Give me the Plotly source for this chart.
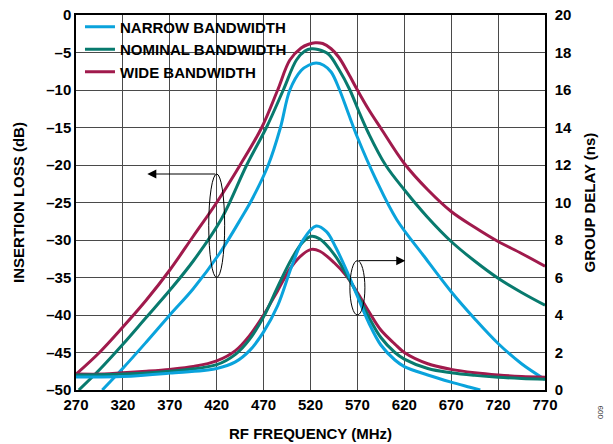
import plotly.graph_objects as go

# ---------------- data ----------------
freq_il_wide = [270, 295, 320, 345, 370, 395, 420, 445, 468, 485, 498, 510, 518, 525, 533, 542, 550, 560, 570, 582, 595, 620, 645, 670, 695, 720, 745, 770]
il_wide = [-47.9, -45.0, -41.6, -38.0, -34.0, -29.5, -25.0, -20.0, -15.0, -10.0, -6.0, -4.4, -3.9, -3.7, -3.8, -4.5, -5.6, -7.7, -10.0, -12.6, -15.1, -19.8, -23.3, -26.2, -28.3, -30.2, -31.8, -33.5]

freq_il_nom = [273, 295, 320, 345, 370, 395, 425, 452, 473, 491, 505, 514, 521, 528, 539, 550, 562, 572, 582, 600, 620, 645, 670, 695, 720, 745, 770]
il_nom = [-50.0, -47.3, -43.9, -40.3, -36.7, -32.8, -27.2, -20.0, -15.0, -10.0, -6.0, -4.8, -4.5, -4.6, -5.2, -7.2, -10.0, -13.0, -15.8, -20.0, -23.3, -27.0, -30.2, -32.8, -35.1, -37.0, -38.7]

freq_il_nar = [298, 320, 345, 370, 395, 423, 447, 458, 475, 488, 498, 510, 518, 526, 534, 542, 551, 560, 570, 590, 612, 640, 670, 695, 720, 745, 770]
il_nar = [-50.0, -47.1, -43.6, -40.0, -36.5, -31.8, -26.9, -24.5, -20.0, -15.0, -10.0, -7.4, -6.7, -6.4, -6.7, -7.6, -10.0, -13.0, -16.3, -22.0, -27.3, -32.0, -36.9, -40.5, -43.8, -46.5, -48.6]

freq_gd_wide = [270, 300, 320, 345, 370, 395, 420, 440, 455, 470, 485, 500, 512, 521, 530, 545, 558, 570, 582, 595, 610, 620, 645, 670, 695, 720, 745, 770]
gd_wide = [0.85, 0.85, 0.92, 1.0, 1.1, 1.25, 1.55, 2.1, 2.9, 4.0, 5.3, 6.6, 7.25, 7.5, 7.4, 6.8, 6.1, 5.2, 4.2, 3.2, 2.45, 2.0, 1.4, 1.1, 0.92, 0.8, 0.72, 0.68]

freq_gd_nom = [270, 320, 370, 420, 440, 455, 470, 485, 500, 512, 521, 530, 545, 558, 570, 582, 595, 610, 620, 645, 670, 695, 720, 745, 770]
gd_nom = [0.8, 0.85, 1.0, 1.35, 1.9, 2.7, 3.9, 5.5, 7.0, 7.9, 8.2, 8.05, 7.25, 6.2, 5.1, 3.9, 2.8, 2.0, 1.65, 1.15, 0.92, 0.78, 0.68, 0.62, 0.58]

freq_gd_nar = [270, 320, 370, 420, 440, 455, 470, 485, 500, 512, 526, 537, 547, 560, 570, 582, 595, 610, 620, 645, 670, 690, 701]
gd_nar = [0.7, 0.72, 0.9, 1.15, 1.5, 2.1, 3.1, 4.5, 6.6, 8.0, 8.75, 8.45, 7.6, 6.2, 5.0, 3.6, 2.4, 1.6, 1.25, 0.8, 0.42, 0.15, 0.0]

series_names = ["NARROW BANDWIDTH", "NOMINAL BANDWIDTH", "WIDE BANDWIDTH"]
colors = {"NARROW BANDWIDTH": "#0AA3DC", "NOMINAL BANDWIDTH": "#087A6E", "WIDE BANDWIDTH": "#A01A4C"}

x_ticks = [270, 320, 370, 420, 470, 520, 570, 620, 670, 720, 770]
y_ticks = [0, -5, -10, -15, -20, -25, -30, -35, -40, -45, -50]
y2_ticks = [0, 2, 4, 6, 8, 10, 12, 14, 16, 18, 20]

# annotation geometry
left_ellipse = dict(x0=411.5, x1=428.5, y0=-35.0, y1=-21.2)
left_arrow_head = (346, -21.2)
right_ellipse = dict(x0=562, x1=578, y0=4.0, y1=6.9)
right_arrow_head = (621, 6.9)

FONT = "Arial, 'Liberation Sans', Helvetica, sans-serif"
LW = 3

fig = go.Figure()

gd_sets = [("WIDE BANDWIDTH", freq_gd_wide, gd_wide),
           ("NOMINAL BANDWIDTH", freq_gd_nom, gd_nom),
           ("NARROW BANDWIDTH", freq_gd_nar, gd_nar)]
for name, fx, fy in gd_sets:
    fig.add_trace(go.Scatter(x=fx, y=fy, mode="lines", yaxis="y2", showlegend=False,
                             line=dict(color=colors[name], width=LW, shape="spline", smoothing=1.0),
                             hoverinfo="skip"))

il_sets = [("WIDE BANDWIDTH", freq_il_wide, il_wide, 3),
           ("NOMINAL BANDWIDTH", freq_il_nom, il_nom, 2),
           ("NARROW BANDWIDTH", freq_il_nar, il_nar, 1)]
for name, fx, fy, rank in il_sets:
    fig.add_trace(go.Scatter(x=fx, y=fy, mode="lines", name=name, legendrank=rank,
                             line=dict(color=colors[name], width=LW, shape="spline", smoothing=1.0)))

shapes = [
    # white panel behind the legend (covers gridlines, stays under traces)
    dict(type="rect", xref="paper", yref="paper", x0=0, x1=0.463, y0=0.828, y1=1,
         fillcolor="white", line=dict(width=0), layer="between"),
    dict(type="circle", xref="x", yref="y", line=dict(color="black", width=1), **left_ellipse),
    dict(type="circle", xref="x", yref="y2", line=dict(color="black", width=1), **right_ellipse),
]

annotations = [
    dict(x=left_arrow_head[0], y=left_arrow_head[1], xref="x", yref="y",
         ax=(left_ellipse["x0"] + left_ellipse["x1"]) / 2, ay=left_ellipse["y1"], axref="x", ayref="y",
         showarrow=True, arrowhead=2, arrowsize=1.8, arrowwidth=1, arrowcolor="black", text=""),
    dict(x=right_arrow_head[0], y=right_arrow_head[1], xref="x", yref="y2",
         ax=(right_ellipse["x0"] + right_ellipse["x1"]) / 2, ay=right_ellipse["y1"], axref="x", ayref="y2",
         showarrow=True, arrowhead=2, arrowsize=1.8, arrowwidth=1, arrowcolor="black", text=""),
    dict(x=1.0, y=0.0, xref="paper", yref="paper", xanchor="center", yanchor="middle",
         xshift=55, yshift=-22, text="009", textangle=-90, showarrow=False,
         font=dict(family=FONT, size=8, color="#333")),
]

axis_font = dict(family=FONT, size=15, color="black", weight="bold")
grid = "#4a4a4a"

fig.update_layout(
    width=613, height=444,
    margin=dict(l=76, r=68, t=15, b=54, autoexpand=False),
    paper_bgcolor="white", plot_bgcolor="white",
    font=dict(family=FONT, color="black"),
    showlegend=True,
    legend=dict(x=0.0085, y=1.012, xanchor="left", yanchor="top", bgcolor="rgba(0,0,0,0)",
                font=dict(family=FONT, size=15, color="black", weight="bold"),
                itemwidth=30, tracegroupgap=0, borderwidth=0,
                traceorder="normal"),
    xaxis=dict(range=[270, 770], tickvals=x_ticks, ticktext=[str(v) for v in x_ticks],
               showgrid=True, gridcolor=grid, gridwidth=1.3, zeroline=False,
               showline=True, linecolor="black", linewidth=1.5, mirror=True,
               ticks="", tickfont=axis_font, automargin=False,
               title=dict(text="RF FREQUENCY (MHz)", font=axis_font, standoff=17)),
    yaxis=dict(range=[-50, 0], tickvals=y_ticks, ticktext=[("–" + str(abs(v))) if v < 0 else str(v) for v in y_ticks],
               showgrid=True, gridcolor=grid, gridwidth=1.3, zeroline=False,
               showline=True, linecolor="black", linewidth=1.5,
               ticks="", tickfont=axis_font, automargin=False,
               title=dict(text="INSERTION LOSS (dB)", font=axis_font, standoff=18)),
    yaxis2=dict(range=[0, 20], tickvals=y2_ticks, overlaying="y", side="right",
                showgrid=False, zeroline=False, showline=True, linecolor="black", linewidth=1.5,
                ticks="", tickfont=axis_font, automargin=False, ticklabelstandoff=5,
                title=dict(text="GROUP DELAY (ns)", font=axis_font, standoff=13)),
    shapes=shapes,
    annotations=annotations,
)

fig.write_html("out.html", config={"displayModeBar": False},
               post_script="document.body.style.margin='0px';document.body.style.padding='0px';")
